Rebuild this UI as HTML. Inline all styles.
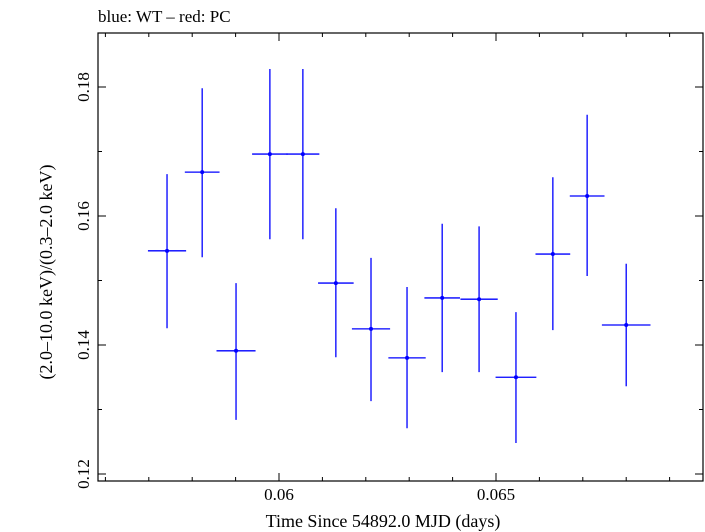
<!DOCTYPE html>
<html><head><meta charset="utf-8"><style>
body{margin:0;background:#fff;}
svg{display:block;font-family:"Liberation Serif",serif;}
</style></head><body>
<svg id="chart" width="705" height="532">
<text x="98" y="22" font-size="17">blue: WT – red: PC</text>
<rect x="98" y="33" width="605" height="448" fill="none" stroke="#000" stroke-width="1.2"/>
<g id="ticks"></g>
<g id="marks"></g>
<text x="383" y="527" font-size="18" text-anchor="middle">Time Since 54892.0 MJD (days)</text>
<text transform="translate(52,272) rotate(-90)" font-size="18" text-anchor="middle">(2.0–10.0 keV)/(0.3–2.0 keV)</text>
</svg>
<script>
const times=[0.05742,0.05823,0.05901,0.05979,0.06055,0.06131,0.06212,0.06295,0.06376,0.06461,0.06546,0.06631,0.06710,0.06800];
const timeErr=[0.00044,0.00040,0.00045,0.00041,0.00038,0.00041,0.00044,0.00043,0.00041,0.00043,0.00047,0.00040,0.00040,0.00056];
const ratios=[0.1546,0.1668,0.1391,0.1696,0.1696,0.1496,0.1425,0.1380,0.1473,0.1471,0.1350,0.1541,0.1631,0.1431];
const ratioHi=[0.1665,0.1798,0.1496,0.1828,0.1828,0.1612,0.1535,0.1490,0.1588,0.1584,0.1451,0.1660,0.1757,0.1526];
const ratioLo=[0.1426,0.1536,0.1284,0.1564,0.1564,0.1381,0.1313,0.1271,0.1358,0.1358,0.1248,0.1423,0.1507,0.1336];
const xTickLabels=["0.06","0.065"];
const yTickLabels=["0.12","0.14","0.16","0.18"];
const L=98,R=703,T=33,B=481;
const x=t=>279+(t-0.06)*43400;
const y=v=>474-(v-0.12)*6450;
const NS="http://www.w3.org/2000/svg";
function mk(tag,attrs,parent){const e=document.createElementNS(NS,tag);for(const k in attrs)e.setAttribute(k,attrs[k]);parent.appendChild(e);return e;}
const tg=document.getElementById('ticks');
for(let i=56;i<=69;i++){const t=i/1000;const px=x(t);if(px<L||px>R)continue;const major=(i%5===0);const len=major?8:4;
 let a=mk('line',{x1:px,x2:px,y1:B,y2:B-len,stroke:'#000'},tg);
 
 
 let b=mk('line',{x1:px,x2:px,y1:T,y2:T+len,stroke:'#000'},tg);
 
 }
xTickLabels.forEach(s=>{const tx=mk('text',{x:x(parseFloat(s)),y:B+19,'font-size':17,'text-anchor':'middle'},tg);tx.textContent=s;
 
 });
for(let i=12;i<=18;i++){const v=i/100;const py=y(v);const major=(i%2===0);const len=major?8:4;
 let a=mk('line',{x1:L,x2:L+len,y1:py,y2:py,stroke:'#000'},tg);
 
 
 let b=mk('line',{x1:R,x2:R-len,y1:py,y2:py,stroke:'#000'},tg);
 
 }
yTickLabels.forEach(s=>{const py=y(parseFloat(s));const tx=mk('text',{transform:`translate(${L-9},${py}) rotate(-90)`,'font-size':17,'text-anchor':'middle'},tg);tx.textContent=s;
 
 });
const mg=document.getElementById('marks');
times.forEach((t,i)=>{
 const g=mk('g',{},mg);
 
 
 mk('line',{x1:x(t-timeErr[i]),x2:x(t+timeErr[i]),y1:y(ratios[i]),y2:y(ratios[i]),stroke:'#0000ff','stroke-width':1.3},g);
 mk('line',{x1:x(t),x2:x(t),y1:y(ratioHi[i]),y2:y(ratioLo[i]),stroke:'#0000ff','stroke-width':1.3},g);
 mk('circle',{cx:x(t),cy:y(ratios[i]),r:2,fill:'#0000ff'},g);
});
</script>
</body></html>
